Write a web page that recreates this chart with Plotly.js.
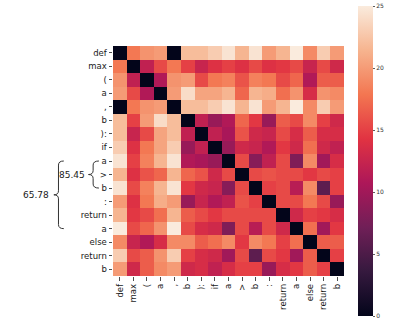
<!DOCTYPE html>
<html><head><meta charset="utf-8">
<script src="https://cdn.plot.ly/plotly-3.0.1.min.js"></script>
<style>html,body{margin:0;padding:0;background:#fff}#chart{width:415px;height:330px}</style>
</head><body><div id="chart"></div>
<script>
const tokens = ['def','max','(','a',',','b','):','if','a','>','b',':','return','a','else','return','b'];
const scores = [
 [0,18,19.5,20,0,22,22,23,24.5,21.5,24.5,20,21.5,25,19,23,20],
 [18,0,12,15.5,18,15,12.5,14,15,14,15.5,14,14.5,15.5,12.5,15.5,13],
 [19.5,12,0,11,19.5,20,15.5,18,18.5,16,18.5,18,15.5,17,11,16.5,16.5],
 [20,15.5,11,0,20,24,20.5,20.5,21.5,17,21.5,21,17.5,19.5,13.5,19.5,19],
 [0,18,19.5,20,0,22,22,23,24.5,21.5,24.5,20,21.5,25,19,23,20],
 [22,15,20,24,22,0,12,9.5,11,17,14.5,9.5,16.5,15.5,19,15,13],
 [22,12.5,15.5,20.5,22,12,0,12,10.5,16,13,12.5,15.5,13.5,16.5,13.5,13.5],
 [23,14,18,20.5,23,9.5,12,0,9.5,13,12.5,11,14.5,13,17.5,13,12],
 [24.5,15,18.5,21.5,24.5,11,10.5,9.5,0,15.5,8.5,12,15.5,8,19,10,13.5],
 [21.5,14,16,17,21.5,17,16,13,15.5,0,15.5,16,15.5,15.5,14.5,15.5,15],
 [24.5,15.5,18.5,21.5,24.5,14.5,13,12.5,8.5,15.5,0,15,15.5,11.5,19,6,15],
 [20,14,18,21,20,9.5,12.5,11,12,16,15,0,15.5,15.5,18,15.5,9.5],
 [21.5,14.5,15.5,17.5,21.5,16.5,15.5,14.5,15.5,15.5,15.5,15.5,0,13,15,14.5,13.5],
 [25,15.5,17,19.5,25,15.5,13.5,13,8,15.5,11.5,15.5,13,0,17.5,10,14.5],
 [19,12.5,11,13.5,19,19,16.5,17.5,19,14.5,19,18,15,17.5,0,16.5,16.5],
 [23,15.5,16.5,19.5,23,15,13.5,13,10,15.5,6,15.5,14.5,10,16.5,0,15],
 [20,13,16.5,19,20,13,13.5,12,13.5,15,15,9.5,13.5,14.5,16.5,15,0]
];
const colorbarTicks = [0,5,10,15,20,25];
const bracketStart = [8, 8];
const bracketEnd = [10, 13];
const bracketLabel = ['85.45', '65.78'];

const idx = tokens.map((t,i)=>i);
const rocket = [[0,'#03051a'],[1/7,'#35193e'],[2/7,'#701f57'],[3/7,'#ad1759'],[4/7,'#e13342'],[5/7,'#f37651'],[6/7,'#f6b48f'],[1,'#faebdd']];
const font = {family:'DejaVu Sans, sans-serif', size:8.5, color:'#1a1a1a'};

// bracket geometry per nesting level (paper x)
const levelGeom = [
  {arm:-0.061, v:-0.086, notch:-0.106, text:-0.112},
  {arm:-0.213, v:-0.236, notch:-0.256, text:-0.27}
];
const shapes = [], annotations = [];
bracketStart.forEach((s,k)=>{
  const e = bracketEnd[k], g = levelGeom[k], m = (s+e)/2, r = 0.3;
  const path = `M ${g.arm},${s} Q ${g.v},${s} ${g.v},${s+r} L ${g.v},${m-r} Q ${g.v},${m} ${g.notch},${m} ` +
               `Q ${g.v},${m} ${g.v},${m+r} L ${g.v},${e-r} Q ${g.v},${e} ${g.arm},${e}`;
  shapes.push({type:'path', xref:'paper', yref:'y', path, line:{color:'#333', width:1}});
  annotations.push({xref:'paper', yref:'y', x:g.text, y:m, text:bracketLabel[k], showarrow:false,
    xanchor:'right', yanchor:'middle', font:{family:font.family, size:9, color:'#1a1a1a'}});
});

const trace = {
  type:'heatmap', z:scores, x:idx, y:idx,
  zmin:0, zmax:25, colorscale:rocket, xgap:0, ygap:0,
  colorbar:{x:1.0606, xanchor:'left', xpad:0, ypad:0, y:0.5, yanchor:'middle',
    len:310, lenmode:'pixels', thickness:15, outlinewidth:0,
    tickvals:colorbarTicks, ticks:'outside', ticklen:2.5, tickwidth:0.8, tickcolor:'#333',
    tickfont:{family:font.family, size:6, color:'#333'}},
  hoverinfo:'none'
};
const layout = {
  width:415, height:330,
  margin:{l:113, r:71, t:46, b:54},
  paper_bgcolor:'#fff', plot_bgcolor:'#fff',
  font,
  xaxis:{tickmode:'array', tickvals:idx, ticktext:tokens, tickangle:-90,
    ticks:'outside', ticklen:3.5, tickwidth:0.8, tickcolor:'#222',
    showgrid:false, zeroline:false, showline:false, range:[-0.5,16.5], tickfont:font},
  yaxis:{tickmode:'array', tickvals:idx, ticktext:tokens, autorange:false, range:[16.5,-0.5],
    ticks:'outside', ticklen:3.5, tickwidth:0.8, tickcolor:'#222',
    showgrid:false, zeroline:false, showline:false, tickfont:font},
  shapes, annotations
};
Plotly.newPlot('chart', [trace], layout, {displayModeBar:false, staticPlot:true});
</script></body></html>
